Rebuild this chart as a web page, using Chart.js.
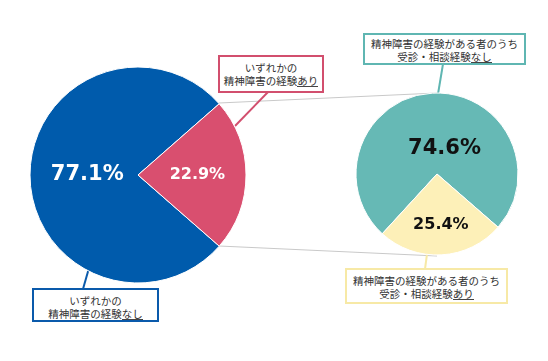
<!DOCTYPE html>
<html>
<head>
<meta charset="utf-8">
<script src="https://cdn.jsdelivr.net/npm/chart.js@4.4.1/dist/chart.umd.min.js"></script>
<style>
  body { margin: 0; background: #fff; }
  #wrap { position: relative; width: 548px; height: 361px; overflow: hidden; background: #fff; }
  #lines { position: absolute; left: 0; top: 0; }
  canvas { position: absolute; }
  #pie1 { left: 18px; top: 55px; }
  #pie2 { left: 337px; top: 74px; }
  .box {
    position: absolute; box-sizing: border-box; background: #fff;
    font-family: "Noto Sans CJK JP", sans-serif; font-size: 10.5px; line-height: 13px;
    color: #333; text-align: center; padding-top: 4px; white-space: nowrap;
  }
  .u { display: inline-block; line-height: 11px; border-bottom: 1px solid #444; }
</style>
</head>
<body>
<div id="wrap">
  <svg id="lines" width="548" height="361">
    <line x1="219" y1="103" x2="437" y2="93" stroke="#c9c9c9" stroke-width="1"/>
    <line x1="219" y1="246" x2="437" y2="256" stroke="#c9c9c9" stroke-width="1"/>
    <line x1="268" y1="92" x2="235" y2="126" stroke="#d24f6e" stroke-width="2"/>
    <line x1="89" y1="268" x2="83" y2="289" stroke="#0a5aab" stroke-width="2"/>
    <line x1="443" y1="64" x2="438" y2="94" stroke="#5fb6b2" stroke-width="2"/>
    <line x1="427" y1="254" x2="425" y2="269" stroke="#f7e9a6" stroke-width="2"/>
  </svg>
  <canvas id="pie1" width="240" height="240"></canvas>
  <canvas id="pie2" width="200" height="200"></canvas>
  <div class="box" id="box1" style="left:218px;top:55px;width:106px;height:38px;border:2px solid #d24f6e;">いずれかの<br>精神障害の経験<span class="u">あり</span></div>
  <div class="box" id="box2" style="left:32px;top:288px;width:127px;height:34px;border:2px solid #0a5aab;">いずれかの<br>精神障害の経験<span class="u">なし</span></div>
  <div class="box" id="box3" style="left:363px;top:33px;width:163px;height:32px;border:2px solid #5fb6b2;padding-top:2px;">精神障害の経験がある者のうち<br>受診・相談経験<span class="u">なし</span></div>
  <div class="box" id="box4" style="left:345px;top:268px;width:163px;height:36px;border:2px solid #f7e9a6;">精神障害の経験がある者のうち<br>受診・相談経験<span class="u">あり</span></div>
</div>
<script>
var pie1_labels = ["いずれかの精神障害の経験なし", "いずれかの精神障害の経験あり"];
var pie1_values = [77.1, 22.9];
var pie1_colors = ["#005bac", "#d94f6f"];

var pie2_labels = ["受診・相談経験なし", "受診・相談経験あり"];
var pie2_values = [74.6, 25.4];
var pie2_colors = ["#66b9b5", "#fdf0b8"];

// writes the percentage inside each slice
var sliceLabels = {
  id: 'sliceLabels',
  afterDatasetsDraw: function (chart, args, opts) {
    var ctx = chart.ctx;
    var meta = chart.getDatasetMeta(0);
    var values = chart.data.datasets[0].data;
    meta.data.forEach(function (arc, i) {
      var p = arc.getProps(['x', 'y', 'startAngle', 'endAngle', 'outerRadius'], true);
      var mid = (p.startAngle + p.endAngle) / 2;
      var r = p.outerRadius * opts.dist[i];
      var x = p.x + Math.cos(mid) * r + opts.dx[i];
      var y = p.y + Math.sin(mid) * r;
      ctx.save();
      ctx.fillStyle = opts.color;
      ctx.font = 'bold ' + opts.size[i] + 'px "DejaVu Sans", Verdana, sans-serif';
      ctx.textAlign = 'center';
      ctx.textBaseline = 'middle';
      ctx.fillText(values[i].toFixed(1) + '%', x, y);
      ctx.restore();
    });
  }
};

function pieOptions(radius, rotation, labelOpts) {
  return {
    responsive: false,
    animation: false,
    radius: radius,
    rotation: rotation,
    layout: { padding: 0 },
    plugins: {
      legend: { display: false },
      tooltip: { enabled: false },
      sliceLabels: labelOpts
    }
  };
}

new Chart(document.getElementById('pie1').getContext('2d'), {
  type: 'pie',
  data: {
    labels: pie1_labels,
    datasets: [{ data: pie1_values, backgroundColor: pie1_colors, borderColor: '#fff', borderWidth: 1, hoverOffset: 0 }]
  },
  options: pieOptions(108, 131.2, { dist: [0.47, 0.55], dx: [0, 0], size: [21, 16], color: '#fff' }),
  plugins: [sliceLabels]
});

new Chart(document.getElementById('pie2').getContext('2d'), {
  type: 'pie',
  data: {
    labels: pie2_labels,
    datasets: [{ data: pie2_values, backgroundColor: pie2_colors, borderColor: '#fff', borderWidth: 1, hoverOffset: 0 }]
  },
  options: pieOptions(81, 222.5, { dist: [0.32, 0.63], dx: [9, 1], size: [21, 16], color: '#111' }),
  plugins: [sliceLabels]
});
</script>
</body>
</html>
